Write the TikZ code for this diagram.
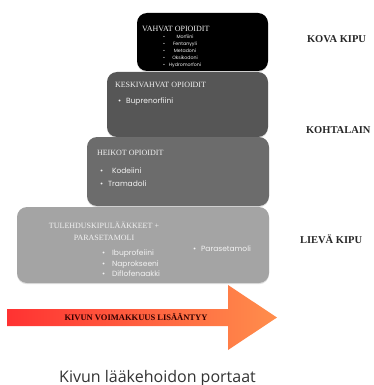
\documentclass[tikz,border=0pt]{standalone}
\usepackage{fontspec}
\setmainfont{Liberation Serif}
\newfontfamily\itemfont{Poppins}
\newfontfamily\capfont{Open Sans}
\usetikzlibrary{shadows}
\definecolor{vahvafill}{HTML}{000000}
\definecolor{keskifill}{HTML}{565656}
\definecolor{heikkofill}{HTML}{6C6C6C}
\definecolor{lievafill}{HTML}{A4A4A4}
\definecolor{arrowred}{HTML}{FF3232}
\definecolor{arroworange}{HTML}{FF8E4C}
\definecolor{labeltext}{HTML}{262626}

\begin{document}
\begin{tikzpicture}[x=1pt, y=-1pt,
  every node/.style={inner sep=0pt, outer sep=0pt},
  stepbox/.style={rounded corners=10pt, anchor=north west,
    drop shadow={shadow xshift=0pt, shadow yshift=-1.2pt, opacity=0.25}},
  steptitle/.style={font=\fontsize{8}{12}\selectfont, text=white!95!black, anchor=base west},
  stepitem/.style={text=white!95!black, anchor=north west},
  painlabel/.style={font=\bfseries\fontsize{10.5}{12}\selectfont, text=labeltext, anchor=base west}]
\useasboundingbox (0,0) rectangle (374,385);
% --- steps, bottom first ---
\node[stepbox, fill=lievafill,  minimum width=252pt, minimum height=76pt] (lieva)  at (17,207) {};
\node[stepbox, fill=heikkofill, minimum width=182pt, minimum height=69pt] (heikot) at (87,137) {};
\node[stepbox, fill=keskifill,  minimum width=161pt, minimum height=65pt] (keski)  at (107,72) {};
\node[stepbox, fill=vahvafill,  minimum width=131pt, minimum height=58pt] (vahvat) at (137,13) {};
% --- titles ---
\node[steptitle] (vahvattitle) at (142,32) {VAHVAT OPIOIDIT};
\node[steptitle] (keskititle)  at (115,88) {KESKIVAHVAT OPIOIDIT};
\node[steptitle] (heikottitle) at (97,155) {HEIKOT OPIOIDIT};
\node[steptitle, anchor=center, align=center] (lievatitle) at (104,231)
  {TULEHDUSKIPULÄÄKKEET +\\PARASETAMOLI};
% --- drug lists ---
\node[stepitem, font=\itemfont\fontsize{4.7}{7}\selectfont] (vahvatlist) at (163,33.5)
  {\begin{tabular}{@{}c@{\hspace{4pt}}c@{}}
   \textbullet & Morfiini\\ \textbullet & Fentanyyli\\ \textbullet & Metadoni\\
   \textbullet & Oksikodoni\\ \textbullet & Hydromorfoni
   \end{tabular}};
\node[stepitem, font=\itemfont\fontsize{7.5}{11}\selectfont] (keskilist) at (118,98)
  {\textbullet\hspace{5pt}Buprenorfiini};
\node[stepitem, font=\itemfont\fontsize{7.5}{13}\selectfont, align=left] (heikotlist) at (100,168)
  {\textbullet\hspace{9pt}Kodeiini\\ \textbullet\hspace{5pt}Tramadoli};
\node[stepitem, font=\itemfont\fontsize{7.5}{10.5}\selectfont, align=left] (lievalist) at (102,250)
  {\textbullet\hspace{7pt}Ibuprofeiini\\ \textbullet\hspace{7pt}Naprokseeni\\ \textbullet\hspace{7pt}Diflofenaakki};
\node[stepitem, font=\itemfont\fontsize{7.5}{11.5}\selectfont] (parasetamoli) at (193,246)
  {\textbullet\hspace{5pt}Parasetamoli};
% --- pain levels ---
\node[painlabel] (kovakipu)  at (307,43)  {KOVA KIPU};
\node[painlabel] (kohtakipu) at (306,133) {KOHTALAIN};
\node[painlabel] (lievakipu) at (300,243.5) {LIEVÄ KIPU};
% --- arrow ---
\shade[left color=arrowred, right color=arroworange]
  (7,309) -- (228,309) -- (228,285) -- (277,317.5) -- (228,350) -- (228,326) -- (7,326) -- cycle;
\node[font=\bfseries\fontsize{8.5}{10}\selectfont, text=black!80!red] (voimakkuus) at (136,317.5)
  {KIVUN VOIMAKKUUS LISÄÄNTYY};
% --- caption ---
\node[font=\capfont\fontsize{16}{18}\selectfont, text=black!80, anchor=base] (portaat) at (157.5,382)
  {Kivun lääkehoidon portaat};
\end{tikzpicture}
\end{document}
